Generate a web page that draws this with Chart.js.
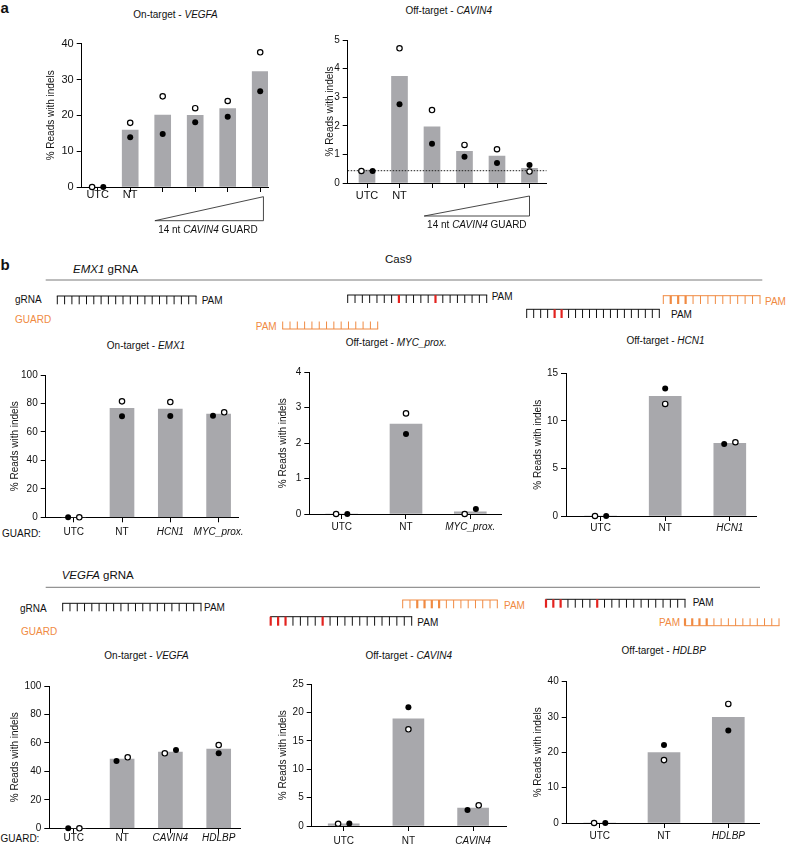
<!DOCTYPE html>
<html><head><meta charset="utf-8">
<script src="https://cdn.jsdelivr.net/npm/chart.js@4"></script>
<style>
html,body{margin:0;padding:0;width:786px;height:845px;overflow:hidden;background:#fff;}
#stage{position:relative;width:786px;height:845px;overflow:hidden;}
canvas{position:absolute;}
svg{position:absolute;left:0;top:0;}
</style></head>
<body><div id="stage"><svg id="deco" width="786" height="845"></svg></div>
<script>
// ---------------- DATA ----------------
const a1Cats   = ['UTC','NT','','','',''];
const a1Bars   = [0, 15.9, 20.1, 20.0, 21.9, 32.2];
const a1Open   = [0, 17.9, 25.3, 22.0, 24.0, 37.6];
const a1Filled = [0, 13.9, 14.8, 18.1, 19.6, 26.7];
const a1YTicks = [0, 10, 20, 30, 40];

const a2Cats   = ['UTC','NT','','','',''];
const a2Bars   = [0.45, 3.73, 1.96, 1.11, 0.94, 0.51];
const a2Open   = [0.42, 4.71, 2.55, 1.33, 1.18, 0.40];
const a2Filled = [0.42, 2.75, 1.37, 0.92, 0.70, 0.63];
const a2YTicks = [0, 1, 2, 3, 4, 5];
const a2Baseline = 0.43;

const b1Cats   = ['UTC','NT','HCN1','MYC_prox.'];
const b1Bars   = [0, 76.6, 76.1, 72.6];
const b1Open   = [0, 81.5, 81.0, 73.8];
const b1Filled = [0, 71.0, 71.2, 71.4];
const b1YTicks = [0, 20, 40, 60, 80, 100];

const b2Cats   = ['UTC','NT','MYC_prox.'];
const b2Bars   = [0, 2.54, 0.06];
const b2Open   = [0, 2.84, 0.0];
const b2Filled = [0, 2.26, 0.14];
const b2YTicks = [0, 1, 2, 3, 4];

const b3Cats   = ['UTC','NT','HCN1'];
const b3Bars   = [0, 12.58, 7.64];
const b3Open   = [0, 11.78, 7.75];
const b3Filled = [0, 13.39, 7.57];
const b3YTicks = [0, 5, 10, 15];

const b4Cats   = ['UTC','NT','CAVIN4','HDLBP'];
const b4Bars   = [0, 48.7, 53.6, 55.7];
const b4Open   = [0, 49.9, 52.7, 58.5];
const b4Filled = [0, 47.3, 55.0, 52.7];
const b4YTicks = [0, 20, 40, 60, 80, 100];

const b5Cats   = ['UTC','NT','CAVIN4'];
const b5Bars   = [0.4, 18.9, 3.18];
const b5Open   = [0.4, 17.06, 3.65];
const b5Filled = [0.45, 20.95, 2.82];
const b5YTicks = [0, 5, 10, 15, 20, 25];

const b6Cats   = ['UTC','NT','HDLBP'];
const b6Bars   = [0, 19.9, 29.9];
const b6Open   = [0, 17.8, 33.7];
const b6Filled = [0, 22.1, 26.2];
const b6YTicks = [0, 10, 20, 30, 40];

// ---------------- STYLE ----------------
const FONT = '"Liberation Sans", Arial, Helvetica, sans-serif';
const BAR = '#a8a8ac';
const ORANGE = '#f08a42';
const RED = '#e3231f';
const INK = '#111';
Chart.defaults.font.family = FONT;

// layout per chart (pixel geometry, not data)
const specs = [
  {cats:a1Cats,bars:a1Bars,open:a1Open,filled:a1Filled,yTicks:a1YTicks,
   L:81.7,R:268,T:43.7,B:187,c0:97.7,s:32.5,bw:16,dodge:['of','','','','',''],italic:[],
   yTitleX:51.7,labelOff:7.5,labelFont:11,tickFont:11,
   wedge:{from:1.76,to:5.1,top:9.7,bot:33.7,tx:3.39,ty:43.7}},
  {cats:a2Cats,bars:a2Bars,open:a2Open,filled:a2Filled,yTicks:a2YTicks,
   L:347.7,R:546.7,T:40,B:183,c0:367,s:32.5,bw:16,dodge:['of','','','','',''],italic:[],
   yTitleX:330,labelOff:13,labelFont:11,tickFont:10,baseline:a2Baseline,
   wedge:{from:1.76,to:5.0,top:13,bot:33,tx:3.38,ty:42.7}},
  {cats:b1Cats,bars:b1Bars,open:b1Open,filled:b1Filled,yTicks:b1YTicks,
   L:45.7,R:238.3,T:375,B:517.3,c0:73.7,s:48.3,bw:24,dodge:['fo','','','fo'],italic:[2,3],
   yTitleX:15,labelOff:15,labelFont:10,tickFont:10},
  {cats:b2Cats,bars:b2Bars,open:b2Open,filled:b2Filled,yTicks:b2YTicks,
   L:309.3,R:501.7,T:372.3,B:514,c0:341.7,s:64.3,bw:32,dodge:['of','','of'],italic:[2],
   yTitleX:283.3,labelOff:13.5,labelFont:10,tickFont:10},
  {cats:b3Cats,bars:b3Bars,open:b3Open,filled:b3Filled,yTicks:b3YTicks,
   L:566,R:756.7,T:373.3,B:516,c0:600.6,s:64.6,bw:32,dodge:['of','','fo'],italic:[2],
   yTitleX:538.3,labelOff:12.5,labelFont:10,tickFont:10},
  {cats:b4Cats,bars:b4Bars,open:b4Open,filled:b4Filled,yTicks:b4YTicks,
   L:49.3,R:240,T:686,B:828.3,c0:73.8,s:48.3,bw:24,dodge:['fo','fo','of',''],italic:[2,3],
   yTitleX:15,labelOff:10,labelFont:10,tickFont:10},
  {cats:b5Cats,bars:b5Bars,open:b5Open,filled:b5Filled,yTicks:b5YTicks,
   L:311.7,R:506,T:684.3,B:826,c0:343.7,s:64.7,bw:31,dodge:['of','','fo'],italic:[2],
   yTitleX:283.3,labelOff:14.8,labelFont:10,tickFont:10},
  {cats:b6Cats,bars:b6Bars,open:b6Open,filled:b6Filled,yTicks:b6YTicks,
   L:566.7,R:759.3,T:681.7,B:823,c0:599.7,s:64.3,bw:32,dodge:['of','',''],italic:[2],
   yTitleX:538.3,labelOff:13.7,labelFont:10,tickFont:10}
];

const wedgePlugin = {
  id: 'wedge',
  afterDraw(chart, args, o) {
    if (!o || o.from === undefined) return;
    const {ctx, chartArea} = chart;
    const x = chart.scales.x;
    const base = chartArea.bottom;
    const xl = x.getPixelForValue(o.from), xr = x.getPixelForValue(o.to);
    ctx.save();
    ctx.strokeStyle = '#333'; ctx.lineWidth = 0.9;
    ctx.beginPath();
    ctx.moveTo(xl, base + o.bot); ctx.lineTo(xr, base + o.top);
    ctx.lineTo(xr, base + o.bot); ctx.closePath(); ctx.stroke();
    const parts = [['14 nt ', false], ['CAVIN4', true], [' GUARD', false]];
    const fnt = it => (it ? 'italic ' : '') + '10px ' + FONT;
    let total = 0;
    parts.forEach(([t, it]) => { ctx.font = fnt(it); total += ctx.measureText(t).width; });
    let cx = x.getPixelForValue(o.tx) - total / 2;
    ctx.fillStyle = INK; ctx.textBaseline = 'middle'; ctx.textAlign = 'left';
    parts.forEach(([t, it]) => { ctx.font = fnt(it); ctx.fillText(t, cx, base + o.ty); cx += ctx.measureText(t).width; });
    ctx.restore();
  }
};

const stage = document.getElementById('stage');

function makeChart(sp) {
  const cx = Math.round(sp.L - 40), cy = Math.round(sp.T - 10);
  const cw = Math.round(sp.R + 32) - cx, ch = Math.round(sp.B + 56) - cy;
  const yw = sp.L - cx, pt = sp.T - cy, pr = cx + cw - sp.R, xh = cy + ch - sp.B;
  const cv = document.createElement('canvas');
  cv.width = cw; cv.height = ch;
  cv.style.left = cx + 'px'; cv.style.top = cy + 'px';
  cv.style.width = cw + 'px'; cv.style.height = ch + 'px';
  stage.appendChild(cv);
  const xMin = -(sp.c0 - sp.L) / sp.s, xMax = xMin + (sp.R - sp.L) / sp.s;
  const dx = 5.6 / sp.s;
  const off = kind => sp.dodge.map(d => d === '' ? 0 : (((d === 'of') === (kind === 'open')) ? -dx : dx));
  const oOff = off('open'), fOff = off('filled');
  const lh = sp.labelFont * 1.2;
  const datasets = [
    {type:'bar', data: sp.bars.map((v, i) => ({x: i, y: v})), backgroundColor: BAR,
     borderWidth: 0, barThickness: sp.bw, order: 10},
    {type:'scatter', data: sp.open.map((v, i) => ({x: i + oOff[i], y: v})),
     pointRadius: 2.7, pointBorderWidth: 1.2, pointBackgroundColor: '#fff', pointBorderColor: '#000',
     clip: false, order: 1},
    {type:'scatter', data: sp.filled.map((v, i) => ({x: i + fOff[i], y: v})),
     pointRadius: 3, pointBorderWidth: 0, pointBackgroundColor: '#000', pointBorderColor: '#000',
     clip: false, order: 2}
  ];
  if (sp.baseline !== undefined) {
    datasets.push({type:'line', data: [{x: xMin, y: sp.baseline}, {x: xMax, y: sp.baseline}],
      borderColor: '#222', borderWidth: 1, borderDash: [1.5, 1.5], pointRadius: 0, order: 5});
  }
  new Chart(cv, {
    type: 'scatter',
    data: {datasets},
    plugins: sp.wedge ? [wedgePlugin] : [],
    options: {
      responsive: false, animation: false, events: [], devicePixelRatio: 1,
      layout: {padding: {top: pt, right: pr, bottom: 0, left: 0}},
      plugins: {legend: {display: false}, tooltip: {enabled: false}, title: {display: false},
                wedge: sp.wedge || {}},
      scales: {
        x: {type: 'linear', min: xMin, max: xMax, bounds: 'data', offset: false,
            afterFit: s => { s.height = xh; },
            afterBuildTicks: s => { s.ticks = sp.cats.map((c, i) => ({value: i})); },
            grid: {display: true, drawOnChartArea: false, drawTicks: true, tickLength: 5,
                   tickColor: '#000', tickWidth: 1, offset: false},
            border: {display: true, color: '#000', width: 1},
            ticks: {autoSkip: false, maxRotation: 0, minRotation: 0, color: INK,
                    padding: sp.labelOff - 5 - lh / 2,
                    callback: (v, i) => sp.cats[i],
                    font: ctx => ({family: FONT, size: sp.labelFont,
                                   style: sp.italic.includes(ctx.index) ? 'italic' : 'normal'})}},
        y: {type: 'linear', min: sp.yTicks[0], max: sp.yTicks[sp.yTicks.length - 1], bounds: 'data',
            afterFit: s => { s.width = yw; },
            afterBuildTicks: s => { s.ticks = sp.yTicks.map(v => ({value: v})); },
            grid: {display: true, drawOnChartArea: false, drawTicks: true, tickLength: 5,
                   tickColor: '#000', tickWidth: 1},
            border: {display: true, color: '#000', width: 1},
            ticks: {padding: 3, color: INK, font: {family: FONT, size: sp.tickFont},
                    callback: v => String(v)},
            title: {display: true, text: '% Reads with indels', color: INK,
                    font: {family: FONT, size: 10},
                    padding: {top: Math.max(0, sp.yTitleX - cx - 6), bottom: 0}}}
      }
    }
  });
}
specs.forEach(makeChart);

// ---------------- DECORATION (titles, gRNA diagrams) ----------------
const NS = 'http://www.w3.org/2000/svg';
const svg = document.getElementById('deco');
function el(tag, attrs, parent) {
  const e = document.createElementNS(NS, tag);
  for (const k in attrs) e.setAttribute(k, attrs[k]);
  (parent || svg).appendChild(e); return e;
}
function text(x, y, parts, o) {
  o = o || {};
  const t = el('text', {x, y, 'font-size': o.size || 10, 'text-anchor': o.anchor || 'start',
    fill: o.color || INK, 'font-weight': o.weight || 'normal', 'dominant-baseline': 'central',
    'font-family': FONT});
  parts.forEach(([s, it]) => { const sp = el('tspan', {}, t); if (it) sp.setAttribute('font-style', 'italic'); sp.textContent = s; });
}
function comb(x0, x1, n, yl, yt, color, reds, thick) {
  reds = reds || []; thick = thick || [];
  const st = (x1 - x0) / (n - 1);
  el('line', {x1: x0 - 0.5, y1: yl, x2: x1 + 0.5, y2: yl, stroke: color, 'stroke-width': 1});
  for (let i = 0; i < n; i++) {
    const x = x0 + i * st, red = reds.includes(i);
    el('line', {x1: x, y1: yl, x2: x, y2: yt, stroke: red ? RED : color,
      'stroke-width': (red || thick.includes(i)) ? 2.2 : 1});
  }
}

// panel letters
text(0.5, 6.5, [['a', false]], {size: 15, weight: 'bold'});
text(0.5, 264, [['b', false]], {size: 15, weight: 'bold'});

// chart titles
text(175.5, 13.5, [['On-target - ', false], ['VEGFA', true]], {anchor: 'middle'});
text(448.7, 10, [['Off-target - ', false], ['CAVIN4', true]], {anchor: 'middle'});
text(146, 345, [['On-target - ', false], ['EMX1', true]], {anchor: 'middle'});
text(396.2, 341.7, [['Off-target - ', false], ['MYC_prox.', true]], {anchor: 'middle'});
text(665.5, 340, [['Off-target - ', false], ['HCN1', true]], {anchor: 'middle'});
text(146.5, 654.5, [['On-target - ', false], ['VEGFA', true]], {anchor: 'middle'});
text(408.7, 654.5, [['Off-target - ', false], ['CAVIN4', true]], {anchor: 'middle'});
text(663.7, 650, [['Off-target - ', false], ['HDLBP', true]], {anchor: 'middle'});

// GUARD: row labels
text(2, 532.5, [['GUARD:', false]]);
text(0.5, 837.5, [['GUARD:', false]]);

// ---- EMX1 block ----
text(385, 259.2, [['Cas9', false]], {size: 11.5});
text(73, 269.3, [['EMX1', true], [' gRNA', false]], {size: 11.5});
el('line', {x1: 45.7, y1: 280, x2: 762.3, y2: 280, stroke: '#7a7a7a', 'stroke-width': 1});
text(15, 299, [['gRNA', false]]);
text(15, 319.3, [['GUARD', false]], {color: ORANGE});
comb(57.3, 196, 20, 296, 304.3, '#111');
text(201.7, 300, [['PAM', false]]);
comb(347.7, 486.7, 20, 295, 303, '#111', [7, 12]);
text(491.7, 295.5, [['PAM', false]]);
comb(282.7, 377.7, 14, 329, 321.5, ORANGE);
text(276.7, 326, [['PAM', false]], {anchor: 'end', color: ORANGE});
comb(663.3, 760, 14, 295.7, 304, ORANGE, [], [1, 2, 3]);
text(765, 301, [['PAM', false]], {color: ORANGE});
comb(526.7, 659.3, 20, 309.3, 318, '#111', [4, 5]);
text(671, 314, [['PAM', false]]);

// ---- VEGFA block ----
text(61.7, 575, [['VEGFA', true], [' gRNA', false]], {size: 11.5});
el('line', {x1: 45.7, y1: 587.3, x2: 760, y2: 587.3, stroke: '#7a7a7a', 'stroke-width': 1});
text(20, 607.7, [['gRNA', false]]);
text(21, 630.7, [['GUARD', false]], {color: ORANGE});
comb(62.7, 201, 20, 603.3, 611.3, '#111');
text(204, 607.3, [['PAM', false]]);
comb(402.7, 497.3, 14, 600, 608.3, ORANGE, [], [2, 3, 4, 5]);
text(504, 605, [['PAM', false]], {color: ORANGE});
comb(270.7, 411.7, 20, 616.7, 625.7, '#111', [0, 1, 2, 7]);
text(417.3, 622.3, [['PAM', false]]);
comb(546, 685, 20, 599.3, 607.7, '#111', [0, 1, 2, 7]);
text(692.7, 601.7, [['PAM', false]]);
comb(685, 779, 14, 625.7, 618.3, ORANGE, [], [0, 1, 2, 3]);
text(680, 622.3, [['PAM', false]], {anchor: 'end', color: ORANGE});
</script>
</body></html>
